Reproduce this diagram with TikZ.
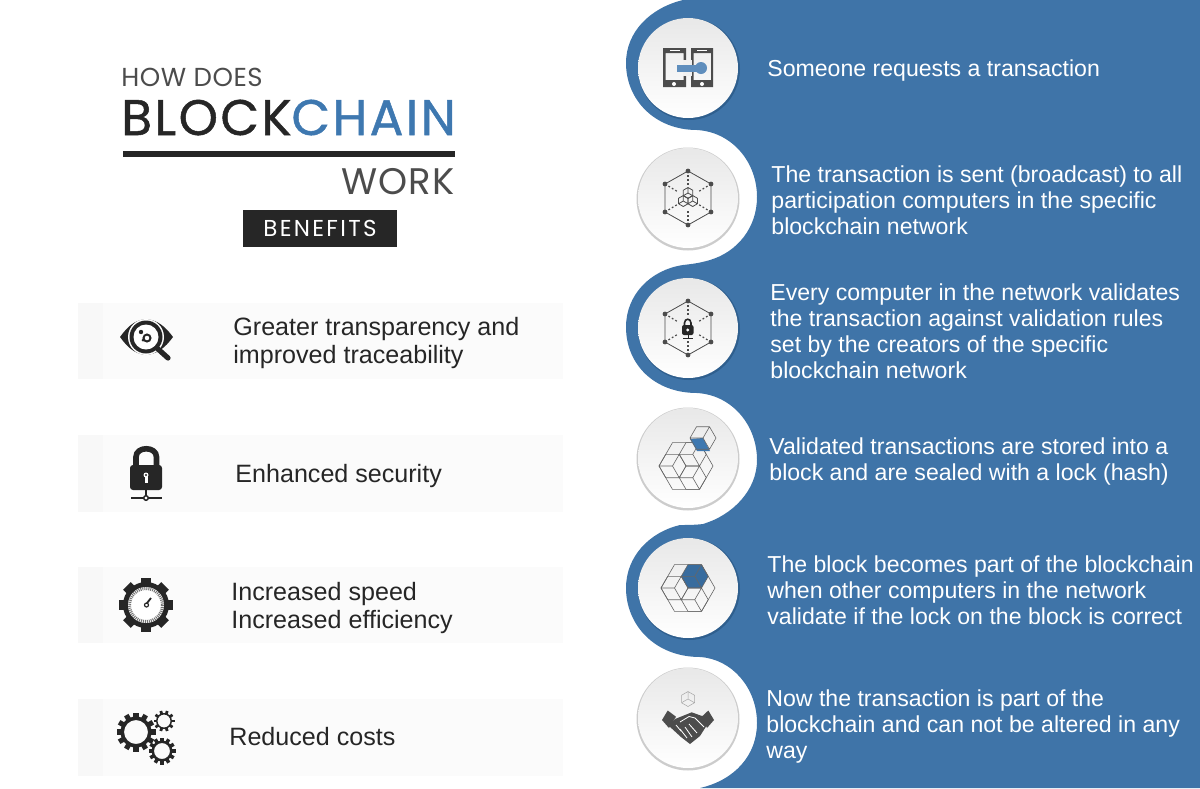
\documentclass[tikz,border=0pt]{standalone}
\usepackage{fontspec}
\setmainfont{Liberation Sans}
\newfontfamily\titlefont{Poppins}
\newfontfamily\titleheavy[FakeBold=1]{Poppins}
\usepackage{tikz}
\definecolor{waveblue}{HTML}{3F74A8}
\definecolor{waveshade}{HTML}{2F5F8E}
\definecolor{chainblue}{HTML}{3E78B0}
\definecolor{keyblue}{HTML}{5F8EBD}
\definecolor{inkdark}{HTML}{262626}
\definecolor{inkgrey}{HTML}{4C4C4C}
\definecolor{bandgrey}{HTML}{FBFBFB}
\definecolor{bandedge}{HTML}{F8F8F8}
\tikzset{
  stepbox/.style={circle,minimum size=50pt,inner sep=0pt,top color=black!9,bottom color=white},
  steptext/.style={anchor=west,align=left,inner sep=0pt,text=white,font=\fontsize{11.55}{13}\selectfont},
  gaintext/.style={anchor=west,align=left,inner sep=0pt,text=black!85,font=\fontsize{12.55}{14}\selectfont},
  cubeline/.style={draw=black!60,line width=0.3pt,line join=round},
  hubline/.style={draw=inkgrey,line width=0.4pt,line join=round},
  netline/.style={draw=inkgrey,line width=0.4pt},
  netspoke/.style={draw=inkgrey,line width=0.6pt,dash pattern=on 0.9pt off 1.1pt}
}
% cube seen from a corner: offset angle, x, y, radius
\newcommand{\isocube}[5][cubeline]{
  \draw[#1,shift={({#3},{#4})},rotate=#2] (0:#5) -- (60:#5) -- (120:#5) -- (180:#5) -- (240:#5) -- (300:#5) -- cycle
    (0,0) -- (60:#5) (0,0) -- (180:#5) (0,0) -- (300:#5);
}
% six dots round a step circle
\newcommand{\hexnet}[2]{
  \draw[netline] (#1,#2-27) -- (#1+23,#2-14) -- (#1+23,#2+14) -- (#1,#2+27) -- (#1-23,#2+14) -- (#1-23,#2-14) -- cycle;
  \foreach \dx/\dy in {0/-27,23/-14,23/14,0/27,-23/14,-23/-14}{
    \draw[netspoke] (#1+\dx,#2+\dy) -- (#1+0.45*\dx,#2+0.45*\dy);
    \fill[inkgrey] (#1+\dx,#2+\dy) circle (2.4);
  }
}
% gear: tooth share, x, y, outer, rim, hole, teeth
\newcommand{\gearicon}[7][0.13]{
  \foreach \i in {1,...,#7}{
    \pgfmathsetmacro\ang{360*\i/#7}
    \fill[inkdark,shift={(#2,#3)},rotate=\ang] (#5-1,-#1*#4) rectangle (#4,#1*#4);
  }
  \fill[inkdark,even odd rule] (#2,#3) circle (#5) (#2,#3) circle (#6);
}
\begin{document}
\begin{tikzpicture}[x=0.5pt,y=-0.5pt]
  \useasboundingbox (0,0) rectangle (1200,788);
  % Wave
  \fill[waveblue] (683,0) .. controls (650,8) and (626,32) .. (626,63)
    .. controls (626,100) and (655,130) .. (697,130)
    .. controls (732,132) and (757,162) .. (757,197)
    .. controls (757,228) and (737,252) .. (710,260)
    .. controls (700,263) and (692,264) .. (683,265)
    .. controls (650,270) and (626,295) .. (626,327)
    .. controls (626,365) and (655,393) .. (697,393)
    .. controls (732,395) and (757,425) .. (757,460)
    .. controls (757,490) and (733,515) .. (703,524)
    .. controls (695,525) and (688,525) .. (680,525)
    .. controls (650,532) and (626,556) .. (626,588)
    .. controls (626,625) and (655,657) .. (700,657)
    .. controls (732,659) and (757,688) .. (757,723)
    .. controls (757,755) and (735,780) .. (700,788)
    -- (1200,788) -- (1200,0) -- cycle;
  % Bands
  \foreach \top/\bot in {303/379,435/512,567/643,699/776}{
    \fill[bandgrey] (78,\top) rectangle (563,\bot);
    \fill[bandedge] (78,\top) rectangle (103,\bot);
  }
  % Title
  \node[anchor=base west,inner sep=0pt,text=inkgrey] (howdoes) at (121,86) {\titlefont\fontsize{13}{13}\selectfont\addfontfeature{LetterSpace=2}HOW DOES};
  \node[anchor=base west,inner sep=0pt] (chain) at (121,135) {\titleheavy\fontsize{25}{25}\selectfont\addfontfeature{LetterSpace=5}\textcolor{inkdark}{BLOCK}\textcolor{chainblue}{CHAIN}};
  \fill[inkdark] (123,151) rectangle (455,157);
  \node[anchor=base east,inner sep=0pt,text=inkgrey] (work) at (455,194) {\titlefont\fontsize{18.5}{18.5}\selectfont\addfontfeature{LetterSpace=3}WORK};
  \node[fill=inkdark,minimum width=77pt,minimum height=18.5pt,inner sep=0pt,text=white] (benefits) at (320,228.5) {\titlefont\fontsize{11.5}{11.5}\selectfont\addfontfeature{LetterSpace=10}BENEFITS};
  % Benefits
  \node[gaintext] (gain1) at (233,343) {Greater transparency and\\improved traceability};
  \node[gaintext] (gain2) at (235,476) {Enhanced security};
  \node[gaintext] (gain3) at (231,608) {Increased speed\\Increased efficiency};
  \node[gaintext] (gain4) at (229,737) {Reduced costs};
  % Steps
  \node[steptext] (text1) at (767,71) {Someone requests a transaction};
  \node[steptext] (text2) at (771,200) {The transaction is sent (broadcast) to all\\participation computers in the specific\\blockchain network};
  \node[steptext] (text3) at (770,331) {Every computer in the network validates\\the transaction against validation rules\\set by the creators of the specific\\blockchain network};
  \node[steptext] (text4) at (769,462) {Validated transactions are stored into a\\block and are sealed with a lock (hash)};
  \node[steptext] (text5) at (767,590) {The block becomes part of the blockchain\\when other computers in the network\\validate if the lock on the block is correct};
  \node[steptext] (text6) at (766,727) {Now the transaction is part of the\\blockchain and can not be altered in any\\way};
  % Step circles
  \foreach \cy in {68,328,588}{
    \fill[waveshade] (689,\cy+1) circle (51);
  }
  \foreach \cy in {198,458,718}{
    \fill[black!20] (688,\cy+1) circle (51.5);
  }
  \node[stepbox] (step1) at (688,68) {};
  \node[stepbox] (step2) at (688,198) {};
  \node[stepbox] (step3) at (688,328) {};
  \node[stepbox] (step4) at (688,458) {};
  \node[stepbox] (step5) at (688,588) {};
  \node[stepbox] (step6) at (688,718) {};
  % Phones
  \fill[inkgrey,even odd rule] (663,48) rectangle (686,87) (665.5,53) rectangle (683.5,80);
  \fill[inkgrey,even odd rule] (691,48) rectangle (713,87) (693.5,53) rectangle (711,80);
  \fill[black!6] (683,60) rectangle (692,76);
  \draw[white,line width=0.4pt] (670,50.5) -- (680,50.5) (697,50.5) -- (707,50.5);
  \fill[white] (674,84) circle (2) (702,84) circle (2);
  \fill[keyblue] (677,65) rectangle (702,71.5);
  \fill[keyblue] (701,68) circle (6);
  % Network with cube
  \hexnet{688}{198}
  \isocube[hubline]{30}{688}{193}{5.5}
  \isocube[hubline]{30}{683.3}{201}{5.5}
  \isocube[hubline]{30}{692.7}{201}{5.5}
  % Network with lock
  \hexnet{688}{328}
  \fill[inkdark,rounded corners=1pt] (682,325) rectangle (693.5,335);
  \draw[inkdark,line width=0.8pt] (684.5,326) -- (684.5,323) .. controls (684.5,318) and (691,318) .. (691,323) -- (691,326);
  \fill[white] (687.8,330) circle (1.6);
  \draw[inkdark,line width=0.4pt] (688,335) -- (688,338.5) (683,338.5) -- (693,338.5);
  % Stack and loose block
  \foreach \a in {60,180,300}{
    \isocube{0}{686+13.5*cos(\a)}{466-13.5*sin(\a)}{13.5}
  }
  \draw[cubeline] (686,466) +(0:27) -- +(60:27) -- +(120:27) -- +(180:27) -- +(240:27) -- +(300:27) -- cycle;
  \fill[chainblue] (690,439) -- (703,438) -- (710,451) -- (697,451) -- cycle;
  \isocube{0}{703}{438}{13}
  % Stack with blue block
  \fill[chainblue!90!black] (694.75,576.3) +(0:13.5) -- +(60:13.5) -- +(120:13.5) -- +(180:13.5) -- +(240:13.5) -- +(300:13.5) -- cycle;
  \foreach \a in {60,180,300}{
    \isocube{0}{688+13.5*cos(\a)}{588-13.5*sin(\a)}{13.5}
  }
  \draw[cubeline] (688,588) +(0:27) -- +(60:27) -- +(120:27) -- +(180:27) -- +(240:27) -- +(300:27) -- cycle;
  % Handshake
  \isocube[draw=black!35,line width=0.25pt]{30}{688}{699}{7.5}
  \fill[inkgrey] (662,720) -- (667.7,710.5) -- (676,716.7) -- (669,728) -- cycle;
  \fill[inkgrey] (701.7,716.7) -- (708.3,710.5) -- (714,720) -- (707,728) -- cycle;
  \fill[inkgrey] (675,719) -- (683.3,715.7) -- (691.7,712.3) -- (702,716) -- (707,725) -- (700,736) -- (690,744) -- (681,737) -- (669,726) -- cycle;
  \draw[white,line width=0.4pt] (680,722) -- (689,716.5) -- (695,718) -- (704,727) (689,724) -- (697,733) (685,727) -- (692,737) (680,729) -- (687,738) (676,725) -- (681,731);
  % Eye icon
  \fill[inkdark] (120,337) .. controls (128,326) and (135,320) .. (146,319) .. controls (157,320) and (165,326) .. (173,337) .. controls (165,348) and (157,354) .. (146,355) .. controls (135,354) and (128,348) .. (120,337) -- cycle;
  \fill[white] (146,337) circle (18);
  \fill[inkdark] (146,337) circle (16.5);
  \fill[white] (146,337) circle (12.5);
  \draw[inkdark,line width=1pt] (147,338) circle (3.5);
  \fill[inkdark] (141,332) circle (2.2) (143,340) circle (1.5);
  \draw[inkdark,line width=2.6pt,line cap=round] (158,349) -- (168,358);
  % Lock icon
  \draw[inkdark,line width=2.8pt] (136,466) -- (136,457) .. controls (136,446) and (156.5,446) .. (156.5,457) -- (156.5,466);
  \fill[inkdark,rounded corners=1.5pt] (130,465) rectangle (162,490);
  \fill[white] (146,475) circle (2.5);
  \fill[white] (144.5,475) rectangle (147.5,483);
  \fill[inkdark] (146,475) circle (1.2);
  \draw[inkdark,line width=0.7pt] (146,490) -- (146,498) (131,498) -- (162,498);
  \filldraw[fill=white,draw=inkdark,line width=0.7pt] (146,498) circle (2.3);
  % Speed icon
  \gearicon[0.2]{146}{605}{27}{23}{0}{8}
  \fill[white] (146,605) circle (18);
  \draw[black!55,line width=1.5pt,dash pattern=on 0.5pt off 0.5pt] (146,605) circle (16.5);
  \draw[inkdark,line width=0.9pt] (147,603) -- (151,598);
  \draw[inkdark,line width=0.6pt] (146.5,605) circle (2);
  % Gears icon
  \gearicon{136}{732}{19.5}{15.5}{12}{12}
  \gearicon{164}{721}{10.5}{8}{6.5}{10}
  \gearicon{162}{751}{13.5}{10.5}{8}{12}
\end{tikzpicture}
\end{document}
